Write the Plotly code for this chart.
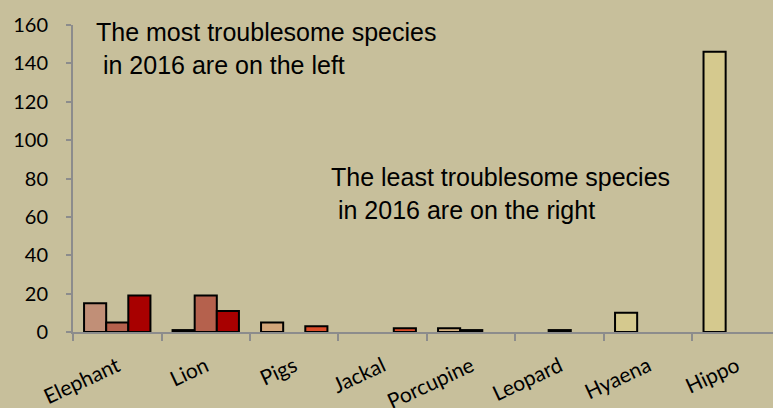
import plotly.graph_objects as go

categories = ["Elephant", "Lion", "Pigs", "Jackal", "Porcupine", "Leopard", "Hyaena", "Hippo"]
series_1 = [15, 1, 5, None, 2, None, 10, 146]
series_2 = [5, 19, None, None, 1, 1, None, None]
series_3 = [19, 11, 3, 2, None, None, None, None]

colors_1 = ["#C18F77", "#C18F77", "#D3A67A", "#D3A67A", "#D8B383", "#D8B383", "#D5C98E", "#D5C98E"]
colors_2 = ["#B5614D"] * 8
colors_3 = ["#A80000", "#A80000", "#DC4E2A", "#DC4E2A", "#DC4E2A", "#DC4E2A", "#DC4E2A", "#DC4E2A"]

y_ticks = [0, 20, 40, 60, 80, 100, 120, 140, 160]

BG = "#C7BF9B"
AXIS = "#8C8C8C"

fig = go.Figure()
for vals, cols in [(series_1, colors_1), (series_2, colors_2), (series_3, colors_3)]:
    fig.add_trace(go.Bar(
        x=categories, y=vals,
        marker=dict(color=cols, line=dict(color="#000000", width=2)),
        showlegend=False,
    ))

fig.update_layout(
    width=773, height=408,
    paper_bgcolor=BG, plot_bgcolor=BG,
    margin=dict(l=73, r=0, t=25, b=76, autoexpand=False),
    barmode="group", bargap=0.25, bargroupgap=0,
    font=dict(family="Lato", color="#000000"),
)
fig.update_xaxes(
    type="category", range=[-0.5, 7.41],
    showline=True, linecolor=AXIS, linewidth=2,
    ticks="outside", tickson="boundaries", ticklen=7, tickcolor=AXIS, tickwidth=2,
    tickangle=-25, tickfont=dict(size=21, family="Lato"), ticklabelstandoff=12,
    showgrid=False, zeroline=False,
)
fig.update_yaxes(
    range=[0, 160], tickvals=y_ticks,
    showline=True, linecolor=AXIS, linewidth=2,
    ticks="outside", ticklen=5, tickcolor=AXIS, tickwidth=2,
    tickfont=dict(size=20, family="Lato"), ticklabelstandoff=14,
    showgrid=False, zeroline=False,
)

fig.add_annotation(
    xref="paper", yref="paper", x=0.03, y=1.03, xanchor="left", yanchor="top",
    text="The most troublesome species<br>\u00a0in 2016 are on the left",
    showarrow=False, align="left",
    font=dict(family="Liberation Sans", size=25, color="#000000"),
)
fig.add_annotation(
    xref="paper", yref="paper", x=0.366, y=0.558, xanchor="left", yanchor="top",
    text="The least troublesome species<br>\u00a0in 2016 are on the right",
    showarrow=False, align="left",
    font=dict(family="Liberation Sans", size=25, color="#000000"),
)

fig.write_html("out.html", config={"displayModeBar": False},
               post_script="document.body.style.margin='0';")
